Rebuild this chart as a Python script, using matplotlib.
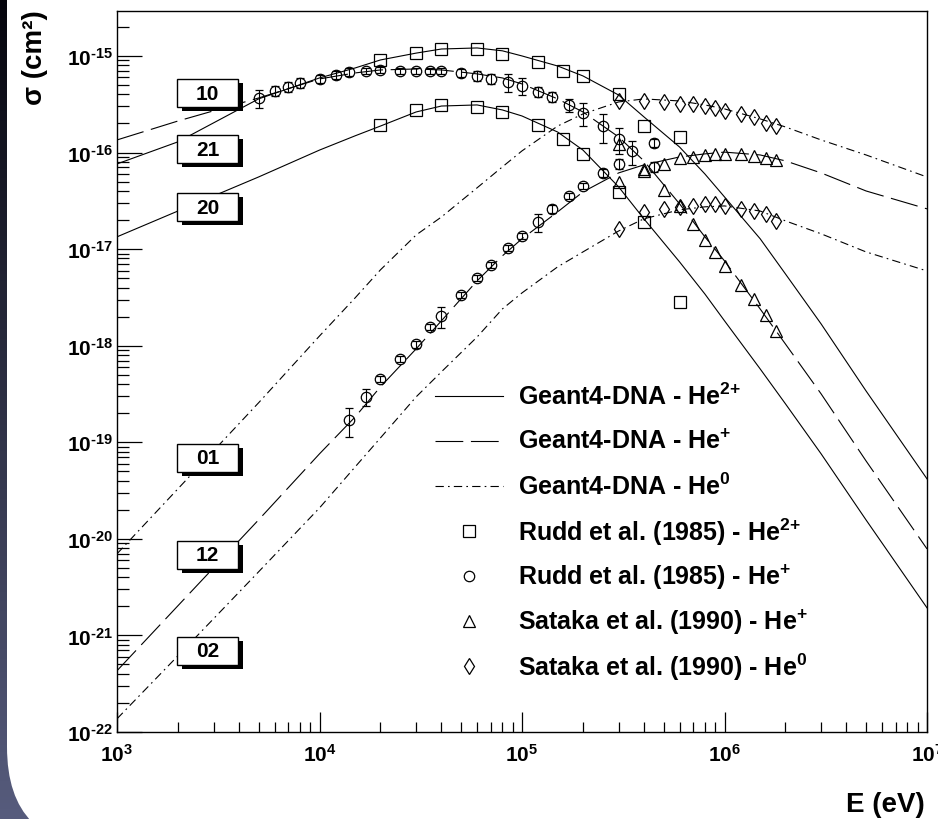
import numpy as np
import matplotlib
matplotlib.use('Agg')
import matplotlib.pyplot as plt
from matplotlib.patches import Rectangle, FancyBboxPatch
from matplotlib.lines import Line2D
from matplotlib.ticker import LogLocator, FuncFormatter, NullFormatter

plt.rcParams['font.family'] = 'Liberation Sans'
plt.rcParams['font.weight'] = 'bold'
plt.rcParams['mathtext.fontset'] = 'custom'
plt.rcParams['mathtext.rm'] = 'Liberation Sans:bold'
plt.rcParams['mathtext.bf'] = 'Liberation Sans:bold'
plt.rcParams['mathtext.default'] = 'bf'
plt.rcParams['lines.scale_dashes'] = False

# Geant4-DNA model curves, sigma_ij = charge i -> charge j (cm2) vs E (eV)
MODEL_E = [1e3, 2e3, 5e3, 1e4, 1.5e4, 2e4, 3e4, 4e4, 6e4, 8e4, 1e5, 1.5e5, 2e5,
           3e5, 4e5, 6e5, 8e5, 1e6, 1.5e6, 2e6, 3e6, 5e6, 1e7]
SIG_21 = [7.62e-17, 1.29e-16, 3.59e-16, 5.92e-16, 7.51e-16, 9.09e-16, 1.07e-15, 1.18e-15,
          1.21e-15, 1.13e-15, 1.00e-15, 7.87e-16, 6.21e-16, 3.94e-16, 2.34e-16, 1.14e-16,
          6.00e-17, 3.47e-17, 1.28e-17, 5.53e-18, 1.68e-18, 3.40e-19, 4.18e-20]
SIG_20 = [1.34e-17, 2.48e-17, 5.58e-17, 1.06e-16, 1.49e-16, 1.88e-16, 2.63e-16, 3.03e-16,
          3.11e-16, 2.76e-16, 2.39e-16, 1.63e-16, 1.06e-16, 4.41e-17, 2.06e-17, 7.37e-18,
          3.43e-18, 1.81e-18, 5.75e-19, 2.50e-19, 7.59e-20, 1.57e-20, 1.93e-21]
SIG_10 = [1.35e-16, 2.12e-16, 3.67e-16, 5.78e-16, 6.67e-16, 7.16e-16, 7.33e-16, 7.16e-16,
          6.52e-16, 5.92e-16, 5.13e-16, 3.59e-16, 2.63e-16, 1.45e-16, 8.19e-17, 2.94e-17,
          1.34e-17, 7.55e-18, 2.40e-18, 1.04e-18, 3.17e-19, 6.41e-20, 7.87e-21]
SIG_12 = [4.31e-22, 2.03e-21, 1.57e-20, 7.59e-20, 1.83e-19, 3.75e-19, 9.27e-19, 1.81e-18,
          4.69e-18, 8.51e-18, 1.28e-17, 2.43e-17, 3.91e-17, 6.15e-17, 7.45e-17, 9.00e-17,
          9.68e-17, 1.01e-16, 9.44e-17, 8.19e-17, 6.15e-17, 4.00e-17, 2.61e-17]
SIG_01 = [7.00e-21, 3.30e-20, 2.56e-19, 1.26e-18, 3.13e-18, 6.10e-18, 1.40e-17, 2.15e-17,
          4.31e-17, 7.10e-17, 1.04e-16, 1.88e-16, 2.51e-16, 3.34e-16, 3.59e-16, 3.42e-16,
          3.11e-16, 2.83e-16, 2.23e-16, 1.84e-16, 1.35e-16, 9.44e-17, 5.58e-17]
SIG_02 = [1.37e-22, 6.15e-22, 4.55e-21, 2.09e-20, 5.56e-20, 1.11e-19, 2.95e-19, 5.36e-19,
          1.23e-18, 2.40e-18, 3.52e-18, 6.55e-18, 9.35e-18, 1.54e-17, 2.06e-17, 2.55e-17,
          2.74e-17, 2.80e-17, 2.48e-17, 1.96e-17, 1.44e-17, 9.35e-18, 5.94e-18]

# Rudd et al. (1985), He2+ projectiles
RUDD2_E = [2e4, 3e4, 4e4, 6e4, 8e4, 1.2e5, 1.6e5, 2e5, 3e5, 4e5, 6e5]
RUDD2_21 = [9.1e-16, 1.07e-15, 1.18e-15, 1.18e-15, 1.05e-15, 8.7e-16, 7.0e-16, 6.2e-16,
            4.05e-16, 1.88e-16, 1.45e-16]
RUDD2_20 = [1.93e-16, 2.76e-16, 3.11e-16, 2.96e-16, 2.63e-16, 1.93e-16, 1.38e-16, 9.7e-17,
            3.9e-17, 1.9e-17, 2.84e-18]

# Rudd et al. (1985), He+ projectiles (relative errors alongside)
RUDD1_E10 = [5e3, 6e3, 7e3, 8e3, 1e4, 1.2e4, 1.4e4, 1.7e4, 2e4, 2.5e4, 3e4, 3.5e4, 4e4,
             5e4, 6e4, 7e4, 8.5e4, 1e5, 1.2e5, 1.4e5, 1.7e5, 2e5, 2.5e5, 3e5, 3.5e5, 4.5e5]
RUDD1_10 = [3.67e-16, 4.35e-16, 4.78e-16, 5.25e-16, 5.78e-16, 6.35e-16, 6.83e-16, 7.0e-16,
            7.17e-16, 7.0e-16, 7.0e-16, 7.0e-16, 7.0e-16, 6.67e-16, 6.2e-16, 5.78e-16,
            5.38e-16, 4.89e-16, 4.24e-16, 3.76e-16, 3.11e-16, 2.57e-16, 1.88e-16, 1.38e-16,
            1.04e-16, 7.1e-17]
RUDD1_10_ERR = [0.22, 0.12, 0.12, 0.12, 0.1, 0.1, 0.1, 0.08, 0.08, 0.08, 0.08, 0.08, 0.08,
                0.1, 0.12, 0.12, 0.22, 0.2, 0.12, 0.12, 0.15, 0.27, 0.33, 0.3, 0.28, 0.12]
RUDD1_E12 = [1.4e4, 1.7e4, 2e4, 2.5e4, 3e4, 3.5e4, 4e4, 5e4, 6e4, 7e4, 8.5e4, 1e5, 1.2e5,
             1.4e5, 1.7e5, 2e5, 2.5e5, 3e5, 4.5e5]
RUDD1_12 = [1.71e-19, 2.95e-19, 4.53e-19, 7.3e-19, 1.04e-18, 1.57e-18, 2.03e-18, 3.36e-18,
            5.03e-18, 6.86e-18, 1.03e-17, 1.37e-17, 1.91e-17, 2.61e-17, 3.56e-17, 4.51e-17,
            6.15e-17, 7.6e-17, 1.26e-16]
RUDD1_12_ERR = [0.33, 0.2, 0.08, 0.08, 0.08, 0.08, 0.25, 0.08, 0.08, 0.08, 0.08, 0.08, 0.22,
                0.1, 0.08, 0.08, 0.1, 0.12, 0.1]

# Sataka et al. (1990), He+ and He0 projectiles
SATAKA_E = [3e5, 4e5, 5e5, 6e5, 7e5, 8e5, 9e5, 1e6, 1.2e6, 1.4e6, 1.6e6, 1.8e6]
SATAKA1_12 = [4.96e-17, 6.45e-17, 7.6e-17, 8.8e-17, 9.0e-17, 9.4e-17, 9.7e-17, 9.7e-17,
              9.7e-17, 9.2e-17, 8.8e-17, 8.4e-17]
SATAKA1_10 = [1.23e-16, 6.76e-17, 4.1e-17, 2.8e-17, 1.82e-17, 1.24e-17, 9.35e-18, 6.7e-18,
              4.26e-18, 3.05e-18, 2.08e-18, 1.42e-18]
SATAKA0_01 = [3.42e-16, 3.42e-16, 3.34e-16, 3.19e-16, 3.19e-16, 3.04e-16, 2.9e-16, 2.7e-16,
              2.51e-16, 2.34e-16, 2.02e-16, 1.88e-16]
SATAKA0_02 = [1.62e-17, 2.43e-17, 2.61e-17, 2.73e-17, 2.8e-17, 2.94e-17, 2.94e-17, 2.8e-17,
              2.61e-17, 2.48e-17, 2.31e-17, 1.96e-17]

BOX_LABELS = ['10', '21', '20', '01', '12', '02']
BOX_Y = [94, 150, 208, 459, 556, 652]

LEGEND_LABELS = [r'Geant4-DNA - He$^{\text{2+}}$', r'Geant4-DNA - He$^{\text{+}}$',
                 r'Geant4-DNA - He$^{\text{0}}$',
                 r'Rudd et al. (1985) - He$^{\text{2+}}$', r'Rudd et al. (1985) - He$^{\text{+}}$',
                 r'Sataka et al. (1990) - He$^{\text{+}}$', r'Sataka et al. (1990) - He$^{\text{0}}$']

W, H = 938, 820
SOLID = dict(ls='-')
DASHED = dict(dashes=(20, 5.5))
DASHDOT = dict(dashes=(6, 3, 1.2, 3))
LW = 0.8


def decade_label(v, pos):
    return r'$\mathbf{10^{\text{%d}}}$' % round(np.log10(v))


fig = plt.figure(figsize=(W / 100, H / 100), dpi=100)

# slide background: dark gradient with a white rounded panel
bg = fig.add_axes([0, 0, 1, 1], zorder=-10)
t = np.linspace(0, 1, 256)[:, None, None]
top = np.array([0.02, 0.02, 0.05])
bot = np.array([0.34, 0.36, 0.49])
bg.imshow(top + t * (bot - top), aspect='auto', extent=[0, W, H, 0])
bg.add_patch(FancyBboxPatch((7, -200), 1200, 1048, boxstyle='round,pad=0,rounding_size=100',
                            fc='white', ec='none'))
bg.set_xlim(0, W)
bg.set_ylim(H, 0)
bg.axis('off')

ax = fig.add_axes([117 / W, 1 - 733 / H, 810 / W, 721 / H])
ax.set_xscale('log')
ax.set_yscale('log')

ax.plot(MODEL_E, SIG_21, color='k', lw=LW, **SOLID)
ax.plot(MODEL_E, SIG_20, color='k', lw=LW, **SOLID)
ax.plot(MODEL_E, SIG_10, color='k', lw=LW, **DASHED)
ax.plot(MODEL_E, SIG_12, color='k', lw=LW, **DASHED)
ax.plot(MODEL_E, SIG_01, color='k', lw=LW, **DASHDOT)
ax.plot(MODEL_E, SIG_02, color='k', lw=LW, **DASHDOT)

mk = dict(ls='none', mfc='none', mec='k', mew=0.9, zorder=4)
ax.plot(RUDD2_E, RUDD2_21, marker='s', ms=8.5, **mk)
ax.plot(RUDD2_E, RUDD2_20, marker='s', ms=8.5, **mk)
ax.errorbar(RUDD1_E10, RUDD1_10, yerr=np.array(RUDD1_10_ERR) * np.array(RUDD1_10),
            fmt='o', ms=7.5, mfc='none', mec='k', mew=0.9, ecolor='k', elinewidth=0.8,
            capsize=3, capthick=0.8, zorder=4)
ax.errorbar(RUDD1_E12, RUDD1_12, yerr=np.array(RUDD1_12_ERR) * np.array(RUDD1_12),
            fmt='o', ms=7.5, mfc='none', mec='k', mew=0.9, ecolor='k', elinewidth=0.8,
            capsize=3, capthick=0.8, zorder=4)
ax.plot(SATAKA_E, SATAKA1_12, marker='^', ms=9, **mk)
ax.plot(SATAKA_E, SATAKA1_10, marker='^', ms=9, **mk)
ax.plot(SATAKA_E, SATAKA0_01, marker='d', ms=8, **mk)
ax.plot(SATAKA_E, SATAKA0_02, marker='d', ms=8, **mk)

ax.set_xlim(1e3, 1e7)
ax.set_ylim(1e-22, 2.92e-15)

for axis in (ax.xaxis, ax.yaxis):
    axis.set_major_locator(LogLocator(base=10, subs=(1.0,), numticks=30))
    axis.set_minor_locator(LogLocator(base=10, subs=np.arange(2, 10), numticks=30))
    axis.set_major_formatter(FuncFormatter(decade_label))
    axis.set_minor_formatter(NullFormatter())
ax.tick_params(which='both', direction='in', top=False, right=False, width=0.9, labelsize=15)
ax.yaxis.set_tick_params(which='major', length=18, pad=3)
ax.yaxis.set_tick_params(which='minor', length=8.6)
ax.xaxis.set_tick_params(which='major', length=14.4, pad=8)
ax.xaxis.set_tick_params(which='minor', length=7.2)
for s in ax.spines.values():
    s.set_linewidth(1.0)

fig.text(35 / W, 1 - 10 / H, 'σ (cm²)', rotation=90, ha='center', va='top', fontsize=20)
fig.text(925 / W, 1 - 805 / H, 'E (eV)', ha='right', va='center', fontsize=20)

# overlay in pixel coordinates for the curve tags and the legend
ov = fig.add_axes([0, 0, 1, 1], zorder=5)
ov.set_xlim(0, W)
ov.set_ylim(H, 0)
ov.axis('off')
ov.patch.set_alpha(0)

for lab, cy in zip(BOX_LABELS, BOX_Y):
    ov.add_patch(Rectangle((182, cy - 14 + 4), 61, 28, fc='k', ec='k', lw=0))
    ov.add_patch(Rectangle((177, cy - 14), 61, 28, fc='white', ec='k', lw=1.0))
    ov.text(207.5, cy, lab, ha='center', va='center', fontsize=15)

handles = [dict(**SOLID), dict(**DASHED), dict(**DASHDOT),
           dict(marker='s', ms=8.5), dict(marker='o', ms=7.5),
           dict(marker='^', ms=9), dict(marker='d', ms=8)]
for i, (lab, st) in enumerate(zip(LEGEND_LABELS, handles)):
    y = 397 + 45 * i
    if 'marker' in st:
        ov.add_line(Line2D([469], [y], ls='none', mfc='none', mec='k', mew=0.9, **st))
    else:
        ov.add_line(Line2D([435, 503], [y, y], color='k', lw=LW, **st))
    ov.text(518, y, lab, ha='left', va='center', fontsize=18)

fig.savefig('out.png', dpi=100)
